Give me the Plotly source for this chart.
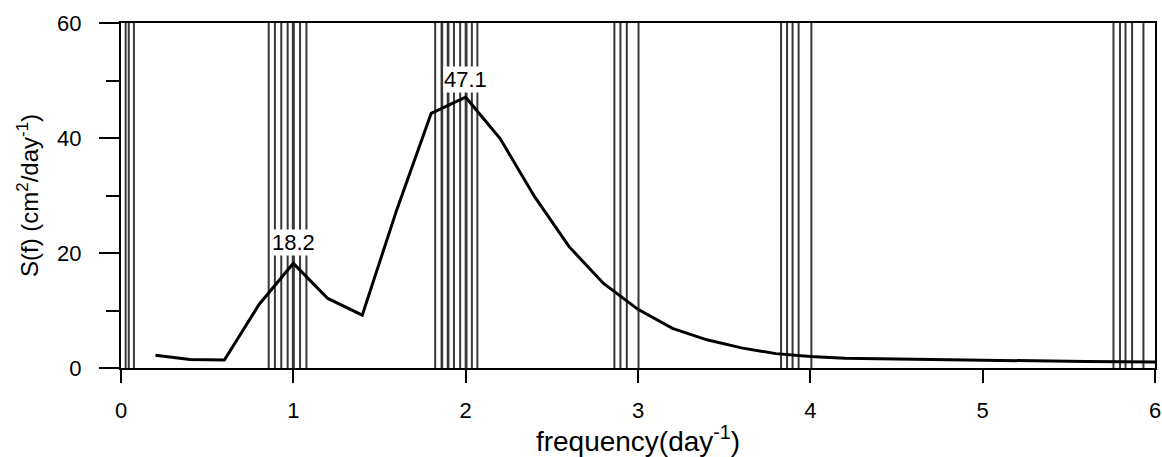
import plotly.graph_objects as go

# Spectrum values
freq = [0.2, 0.4, 0.6, 0.8, 1.0, 1.2, 1.4, 1.6, 1.8, 2.0,
        2.2, 2.4, 2.6, 2.8, 3.0, 3.2, 3.4, 3.6, 3.8, 4.0,
        4.2, 4.4, 4.6, 4.8, 5.0, 5.2, 5.4, 5.6, 5.8, 6.0]
spec = [2.2, 1.5, 1.4, 11.0, 18.2, 12.1, 9.2, 27.5, 44.3, 47.1,
        39.9, 29.8, 21.1, 14.7, 10.2, 6.9, 4.9, 3.5, 2.5, 2.0,
        1.7, 1.6, 1.5, 1.4, 1.3, 1.25, 1.2, 1.15, 1.1, 1.05]

# Tidal constituent frequencies (vertical lines)
const_freq = [0.027, 0.045, 0.075,
              0.857, 0.893, 0.930, 0.967, 0.997, 1.003, 1.039, 1.076,
              1.823, 1.860, 1.864, 1.896, 1.900, 1.932, 1.968, 2.000, 2.005, 2.036, 2.068,
              2.863, 2.898, 2.935, 3.003,
              3.830, 3.865, 3.897, 3.932, 4.006,
              5.759, 5.797, 5.829, 5.867, 5.933]

# Peak labels
peak_x = [1.0, 2.0]
peak_y = [18.2, 47.1]
peak_text = ["18.2", "47.1"]
peak_shift = [7, 4]

y_range = [0, 60]
x_range = [0, 6]

FONT = "Arial, 'Liberation Sans', sans-serif"

vx, vy = [], []
for f in const_freq:
    vx += [f, f, None]
    vy += [y_range[0], y_range[1], None]

fig = go.Figure()
fig.add_trace(go.Scatter(x=vx, y=vy, mode="lines",
                         line=dict(color="#383838", width=2),
                         hoverinfo="skip", showlegend=False))
fig.add_trace(go.Scatter(x=freq, y=spec, mode="lines",
                         line=dict(color="black", width=3),
                         showlegend=False))

for x, y, t, s in zip(peak_x, peak_y, peak_text, peak_shift):
    fig.add_annotation(x=x, y=y, text=t, showarrow=False, yanchor="bottom",
                       yshift=s, bgcolor="white", borderpad=0,
                       font=dict(family=FONT, size=22, color="black"))

fig.update_layout(
    width=1162, height=457,
    margin=dict(l=121, r=7, t=23, b=89),
    plot_bgcolor="white", paper_bgcolor="white",
    font=dict(family=FONT, color="black"),
)
fig.update_xaxes(
    range=x_range, dtick=1, showgrid=False, zeroline=False,
    showline=True, linecolor="black", linewidth=2, mirror=True,
    ticks="outside", ticklen=13, tickwidth=2, tickcolor="black",
    tickfont=dict(size=22), ticklabelstandoff=9,
    title=dict(text="frequency(day<sup>-1</sup>)", font=dict(size=28), standoff=0),
    automargin=False,
)
fig.update_yaxes(
    range=y_range, dtick=20, showgrid=False, zeroline=False,
    showline=True, linecolor="black", linewidth=2, mirror=True,
    ticks="outside", ticklen=20, tickwidth=2, tickcolor="black",
    tickfont=dict(size=22), ticklabelstandoff=13,
    minor=dict(dtick=10, ticks="outside", ticklen=13, tickwidth=2, tickcolor="black", showgrid=False),
    title=dict(text="S(f) (cm<sup>2</sup>/day<sup>-1</sup>)", font=dict(size=24), standoff=12),
    automargin=False,
)

fig.write_html("out.html", config={"displayModeBar": False},
               post_script="document.body.style.margin='0';document.body.style.padding='0';")
